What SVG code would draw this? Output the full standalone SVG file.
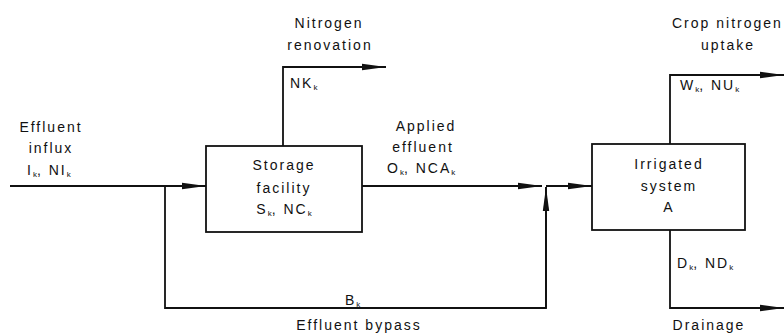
<svg xmlns="http://www.w3.org/2000/svg" width="784" height="333" viewBox="0 0 784 333">
<style>
text{font-family:"Liberation Sans",Arial,sans-serif;font-size:14px;fill:#111;letter-spacing:2px}
.c{text-anchor:middle}
.s{font-size:8px;letter-spacing:0}
.ln{fill:none;stroke:#111;stroke-width:1.8}
.box{fill:#fff;stroke:#111;stroke-width:1.8}
</style>
<defs>
<marker id="ah" markerWidth="24" markerHeight="8" refX="24" refY="4" orient="auto" markerUnits="userSpaceOnUse">
<path d="M0,0.8 L24,4 L0,7.2 Z" fill="#111"/>
</marker>
</defs>
<rect width="784" height="333" fill="#fff"/>
<g id="connectors">
<path class="ln" d="M10,186 H206" marker-end="url(#ah)"/>
<path class="ln" d="M165,186 V308 H546 V187"/>
<path class="ln" d="M546,308 V187" marker-end="url(#ah)"/>
<path class="ln" d="M283,146 V67 H386" marker-end="url(#ah)"/>
<path class="ln" d="M362,186 H542" marker-end="url(#ah)"/>
<path class="ln" d="M546,186 H592" marker-end="url(#ah)"/>
<path class="ln" d="M670,144 V75 H784" marker-end="url(#ah)"/>
<path class="ln" d="M670,230 V308 H784" marker-end="url(#ah)"/>
</g>
<g id="storage">
<rect class="box" x="206" y="146" width="156" height="86"/>
<text class="c" x="284" y="170">Storage</text>
<text class="c" x="284" y="193">facility</text>
<text class="c" x="284" y="214">S<tspan class="s" dy="2">k</tspan><tspan dy="-2">, NC</tspan><tspan class="s" dy="2">k</tspan></text>
</g>
<g id="irrigated">
<rect class="box" x="592" y="144" width="153" height="86"/>
<text class="c" x="669" y="169">Irrigated</text>
<text class="c" x="669" y="191">system</text>
<text class="c" x="669" y="212">A</text>
</g>
<g id="labels">
<text class="c" x="51" y="132">Effluent</text>
<text class="c" x="51" y="153">influx</text>
<text x="27" y="175">I<tspan class="s" dy="2">k</tspan><tspan dy="-2">, NI</tspan><tspan class="s" dy="2">k</tspan></text>
<text class="c" x="329" y="28">Nitrogen</text>
<text class="c" x="330" y="50">renovation</text>
<text x="290" y="88">NK<tspan class="s" dy="2">k</tspan></text>
<text class="c" x="426" y="131">Applied</text>
<text class="c" x="423" y="152">effluent</text>
<text x="387" y="173">O<tspan class="s" dy="2">k</tspan><tspan dy="-2">, NCA</tspan><tspan class="s" dy="2">k</tspan></text>
<text x="672" y="28">Crop nitrogen</text>
<text class="c" x="728" y="50">uptake</text>
<text x="680" y="90">W<tspan class="s" dy="2">k</tspan><tspan dy="-2">, NU</tspan><tspan class="s" dy="2">k</tspan></text>
<text x="677" y="268">D<tspan class="s" dy="2">k</tspan><tspan dy="-2">, ND</tspan><tspan class="s" dy="2">k</tspan></text>
<text class="c" x="709" y="330">Drainage</text>
<text x="345" y="305">B<tspan class="s" dy="2">k</tspan></text>
<text class="c" x="359" y="330">Effluent bypass</text>
</g>
</svg>
